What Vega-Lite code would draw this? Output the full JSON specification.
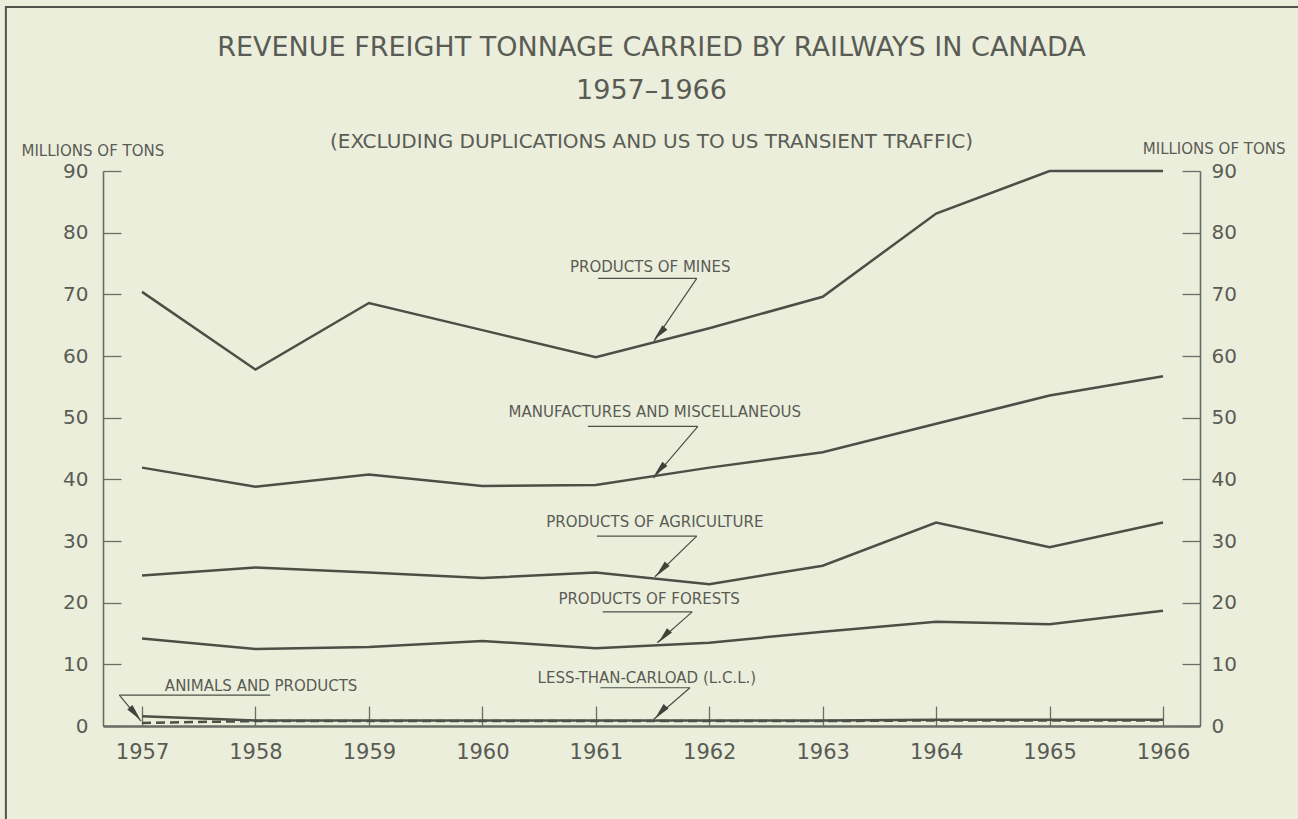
{
  "$schema": "https://vega.github.io/schema/vega-lite/v6.json",
  "width": 1097,
  "height": 555,
  "autosize": {"type": "none"},
  "padding": {"left": 103, "top": 171, "right": 98, "bottom": 93},
  "background": "#eceedc",
  "config": {
    "view": {"stroke": null},
    "font": "DejaVu Sans",
    "axis": {"grid": false, "labelFont": "DejaVu Sans", "titleFont": "DejaVu Sans", "labelColor": "#595c55", "titleColor": "#595c55", "domainColor": "#6a6d66", "tickColor": "#6a6d66"}
  },
  "title": {
    "text": ["REVENUE FREIGHT TONNAGE CARRIED BY RAILWAYS IN CANADA", "1957–1966"],
    "subtitle": "(EXCLUDING DUPLICATIONS AND US TO US TRANSIENT TRAFFIC)",
    "anchor": "middle",
    "fontSize": 27,
    "fontWeight": "normal",
    "lineHeight": 43,
    "color": "#595c55",
    "subtitleFontSize": 20,
    "subtitleColor": "#595c55",
    "subtitlePadding": 27,
    "offset": -147
  },
  "datasets": {
    "series": [
      {"series": "Products of Mines", "year": 1957, "tons": 70.4},
      {"series": "Products of Mines", "year": 1958, "tons": 57.8},
      {"series": "Products of Mines", "year": 1959, "tons": 68.6},
      {"series": "Products of Mines", "year": 1960, "tons": 64.2},
      {"series": "Products of Mines", "year": 1961, "tons": 59.8},
      {"series": "Products of Mines", "year": 1962, "tons": 64.5},
      {"series": "Products of Mines", "year": 1963, "tons": 69.6},
      {"series": "Products of Mines", "year": 1964, "tons": 83.1},
      {"series": "Products of Mines", "year": 1965, "tons": 90.0},
      {"series": "Products of Mines", "year": 1966, "tons": 90.0},
      {"series": "Manufactures and Miscellaneous", "year": 1957, "tons": 41.9},
      {"series": "Manufactures and Miscellaneous", "year": 1958, "tons": 38.8},
      {"series": "Manufactures and Miscellaneous", "year": 1959, "tons": 40.8},
      {"series": "Manufactures and Miscellaneous", "year": 1960, "tons": 38.9},
      {"series": "Manufactures and Miscellaneous", "year": 1961, "tons": 39.1},
      {"series": "Manufactures and Miscellaneous", "year": 1962, "tons": 41.9},
      {"series": "Manufactures and Miscellaneous", "year": 1963, "tons": 44.4},
      {"series": "Manufactures and Miscellaneous", "year": 1964, "tons": 49.0},
      {"series": "Manufactures and Miscellaneous", "year": 1965, "tons": 53.6},
      {"series": "Manufactures and Miscellaneous", "year": 1966, "tons": 56.7},
      {"series": "Products of Agriculture", "year": 1957, "tons": 24.4},
      {"series": "Products of Agriculture", "year": 1958, "tons": 25.7},
      {"series": "Products of Agriculture", "year": 1959, "tons": 24.9},
      {"series": "Products of Agriculture", "year": 1960, "tons": 24.0},
      {"series": "Products of Agriculture", "year": 1961, "tons": 24.9},
      {"series": "Products of Agriculture", "year": 1962, "tons": 23.0},
      {"series": "Products of Agriculture", "year": 1963, "tons": 26.0},
      {"series": "Products of Agriculture", "year": 1964, "tons": 33.0},
      {"series": "Products of Agriculture", "year": 1965, "tons": 29.0},
      {"series": "Products of Agriculture", "year": 1966, "tons": 33.0},
      {"series": "Products of Forests", "year": 1957, "tons": 14.2},
      {"series": "Products of Forests", "year": 1958, "tons": 12.5},
      {"series": "Products of Forests", "year": 1959, "tons": 12.8},
      {"series": "Products of Forests", "year": 1960, "tons": 13.8},
      {"series": "Products of Forests", "year": 1961, "tons": 12.6},
      {"series": "Products of Forests", "year": 1962, "tons": 13.5},
      {"series": "Products of Forests", "year": 1963, "tons": 15.3},
      {"series": "Products of Forests", "year": 1964, "tons": 16.9},
      {"series": "Products of Forests", "year": 1965, "tons": 16.5},
      {"series": "Products of Forests", "year": 1966, "tons": 18.7},
      {"series": "Animals and Products", "year": 1957, "tons": 0.5},
      {"series": "Animals and Products", "year": 1958, "tons": 0.8},
      {"series": "Animals and Products", "year": 1959, "tons": 0.8},
      {"series": "Animals and Products", "year": 1960, "tons": 0.8},
      {"series": "Animals and Products", "year": 1961, "tons": 0.8},
      {"series": "Animals and Products", "year": 1962, "tons": 0.8},
      {"series": "Animals and Products", "year": 1963, "tons": 0.8},
      {"series": "Animals and Products", "year": 1964, "tons": 0.9},
      {"series": "Animals and Products", "year": 1965, "tons": 0.9},
      {"series": "Animals and Products", "year": 1966, "tons": 0.9},
      {"series": "Less-than-carload (L.C.L.)", "year": 1957, "tons": 1.6},
      {"series": "Less-than-carload (L.C.L.)", "year": 1958, "tons": 0.9},
      {"series": "Less-than-carload (L.C.L.)", "year": 1959, "tons": 0.9},
      {"series": "Less-than-carload (L.C.L.)", "year": 1960, "tons": 0.9},
      {"series": "Less-than-carload (L.C.L.)", "year": 1961, "tons": 0.9},
      {"series": "Less-than-carload (L.C.L.)", "year": 1962, "tons": 0.9},
      {"series": "Less-than-carload (L.C.L.)", "year": 1963, "tons": 0.9},
      {"series": "Less-than-carload (L.C.L.)", "year": 1964, "tons": 1.0},
      {"series": "Less-than-carload (L.C.L.)", "year": 1965, "tons": 1.0},
      {"series": "Less-than-carload (L.C.L.)", "year": 1966, "tons": 1.0}
    ],
    "labels": [
      {"label": "PRODUCTS OF MINES", "year": 1961.48, "tons": 74.4},
      {"label": "MANUFACTURES AND MISCELLANEOUS", "year": 1961.52, "tons": 50.9},
      {"label": "PRODUCTS OF AGRICULTURE", "year": 1961.52, "tons": 33.1},
      {"label": "PRODUCTS OF FORESTS", "year": 1961.47, "tons": 20.6},
      {"label": "LESS-THAN-CARLOAD (L.C.L.)", "year": 1961.45, "tons": 7.8},
      {"label": "ANIMALS AND PRODUCTS", "year": 1958.05, "tons": 6.5}
    ],
    "leaders": [
      {"year": 1961.02, "tons": 72.6, "year2": 1961.89, "tons2": 72.6},
      {"year": 1961.89, "tons": 72.6, "year2": 1961.51, "tons2": 62.3},
      {"year": 1960.93, "tons": 48.6, "year2": 1961.9, "tons2": 48.6},
      {"year": 1961.9, "tons": 48.6, "year2": 1961.51, "tons2": 40.2},
      {"year": 1961.01, "tons": 30.8, "year2": 1961.89, "tons2": 30.8},
      {"year": 1961.89, "tons": 30.8, "year2": 1961.52, "tons2": 24.2},
      {"year": 1961.06, "tons": 18.5, "year2": 1961.85, "tons2": 18.5},
      {"year": 1961.85, "tons": 18.5, "year2": 1961.54, "tons2": 13.5},
      {"year": 1961.04, "tons": 6.2, "year2": 1961.83, "tons2": 6.2},
      {"year": 1961.83, "tons": 6.2, "year2": 1961.51, "tons2": 1.1},
      {"year": 1956.8, "tons": 5.0, "year2": 1958.13, "tons2": 5.0},
      {"year": 1956.8, "tons": 5.0, "year2": 1956.99, "tons2": 0.8}
    ],
    "arrows": [
      {"target": "Products of Mines", "year": 1961.56, "tons": 63.6},
      {"target": "Manufactures and Miscellaneous", "year": 1961.56, "tons": 41.5},
      {"target": "Products of Agriculture", "year": 1961.58, "tons": 25.3},
      {"target": "Products of Forests", "year": 1961.6, "tons": 14.5},
      {"target": "Less-than-carload (L.C.L.)", "year": 1961.57, "tons": 2.2}
    ],
    "arrowsRight": [
      {"target": "Animals and Products", "year": 1956.94, "tons": 2.0}
    ]
  },
  "layer": [
    {
      "data": {"values": [{}]},
      "mark": {"type": "rect", "fill": "transparent", "stroke": "#505349", "strokeWidth": 2},
      "encoding": {
        "x": {"datum": 1955.8, "type": "quantitative", "title": null},
        "x2": {"datum": 1967.4},
        "y": {"datum": 116.6, "type": "quantitative", "axis": null},
        "y2": {"datum": -20}
      }
    },
    {
      "data": {"name": "series"},
      "transform": [{"filter": "datum.series === 'Animals and Products'"}],
      "mark": {"type": "line", "strokeWidth": 2.5, "color": "#4b5047", "strokeDash": [9, 5]},
      "encoding": {
        "x": {"field": "year", "type": "quantitative", "title": null,
              "scale": {"domain": [1956.656, 1966.326], "nice": false, "zero": false},
              "axis": {"values": [1957, 1958, 1959, 1960, 1961, 1962, 1963, 1964, 1965, 1966], "format": "d", "labelFontSize": 21, "tickSize": -20, "tickWidth": 1.3, "domainWidth": 2.4, "labelPadding": 35, "title": null}},
        "y": {"field": "tons", "type": "quantitative", "title": "MILLIONS OF TONS",
              "scale": {"domain": [0, 90], "nice": false},
              "axis": {"orient": "left", "values": [0, 10, 20, 30, 40, 50, 60, 70, 80, 90], "labelFontSize": 20, "tickSize": -18, "tickWidth": 1.3, "domainWidth": 1.6, "labelPadding": 33, "title": "MILLIONS OF TONS", "titleAngle": 0, "titleAlign": "left", "titleBaseline": "middle", "titleX": -82, "titleY": -21, "titleFontSize": 15, "titleFontWeight": "normal"}}
      }
    },
    {
      "data": {"name": "series"},
      "transform": [{"filter": "datum.series !== 'Animals and Products'"}],
      "mark": {"type": "line", "strokeWidth": 2.5, "color": "#4b5047"},
      "encoding": {
        "x": {"field": "year", "type": "quantitative", "title": null},
        "y": {"field": "tons", "type": "quantitative", "title": "MILLIONS OF TONS",
              "axis": {"orient": "right", "values": [0, 10, 20, 30, 40, 50, 60, 70, 80, 90], "labelFontSize": 20, "tickSize": -18, "tickWidth": 1.3, "domainWidth": 1.6, "labelPadding": 29, "title": "MILLIONS OF TONS", "titleAngle": 0, "titleAlign": "right", "titleBaseline": "middle", "titleX": 85, "titleY": -23, "titleFontSize": 15, "titleFontWeight": "normal"}},
        "detail": {"field": "series"}
      }
    },
    {
      "data": {"name": "leaders"},
      "mark": {"type": "rule", "strokeWidth": 1.2, "color": "#4b5047"},
      "encoding": {
        "x": {"field": "year", "type": "quantitative", "title": null},
        "y": {"field": "tons", "type": "quantitative", "axis": null},
        "x2": {"field": "year2"},
        "y2": {"field": "tons2"}
      }
    },
    {
      "data": {"name": "arrows"},
      "mark": {"type": "point", "shape": "M0,-1L0.4,1L-0.4,1Z", "filled": true, "size": 280, "angle": 222, "color": "#3f443b", "opacity": 1},
      "encoding": {
        "x": {"field": "year", "type": "quantitative", "title": null},
        "y": {"field": "tons", "type": "quantitative", "axis": null}
      }
    },
    {
      "data": {"name": "arrowsRight"},
      "mark": {"type": "point", "shape": "M0,-1L0.4,1L-0.4,1Z", "filled": true, "size": 280, "angle": 140, "color": "#3f443b", "opacity": 1},
      "encoding": {
        "x": {"field": "year", "type": "quantitative", "title": null},
        "y": {"field": "tons", "type": "quantitative", "axis": null}
      }
    },
    {
      "data": {"name": "labels"},
      "mark": {"type": "text", "fontSize": 15, "color": "#595c55", "align": "center", "baseline": "middle", "font": "DejaVu Sans"},
      "encoding": {
        "x": {"field": "year", "type": "quantitative", "title": null},
        "y": {"field": "tons", "type": "quantitative", "axis": null},
        "text": {"field": "label"}
      }
    }
  ],
  "resolve": {"axis": {"y": "independent"}}
}
